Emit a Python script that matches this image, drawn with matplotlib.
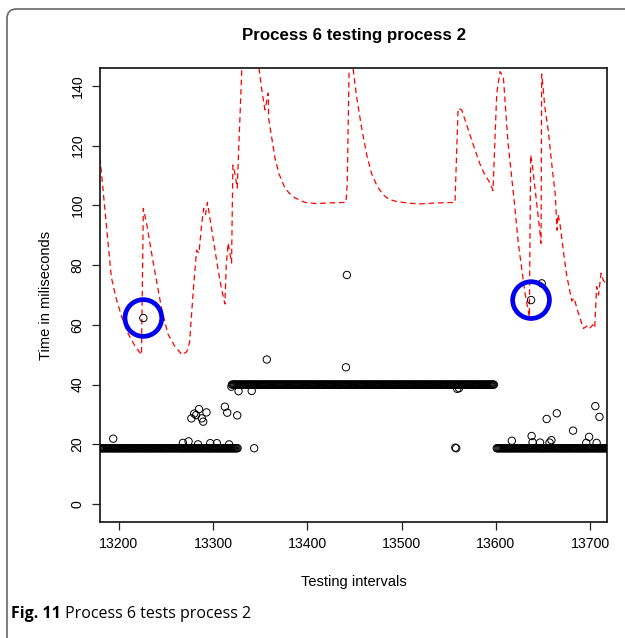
import numpy as np
import matplotlib
matplotlib.use("Agg")
import matplotlib.pyplot as plt
from matplotlib.patches import FancyBboxPatch

# dashed red curve (threshold line)
red_x = [13180, 13186, 13192, 13197, 13203, 13210, 13217, 13224, 13226, 13230,
         13236, 13245, 13252, 13259, 13267, 13272, 13275, 13279, 13282.5, 13285,
         13288, 13290, 13292, 13294, 13296, 13300, 13305, 13309, 13312.5, 13314,
         13316, 13319.6, 13321, 13323, 13325.6, 13331, 13347, 13352, 13355, 13358.5,
         13359, 13365.6, 13370, 13376, 13381, 13387, 13397.5, 13410, 13420, 13441,
         13442.4, 13444.5, 13447, 13452, 13457.6, 13463, 13468, 13474, 13480.6, 13487,
         13494.8, 13509, 13520, 13535, 13556.7, 13560, 13563.8, 13568, 13572.6, 13578,
         13583, 13588, 13594, 13597, 13601, 13604.5, 13608, 13613, 13615, 13620,
         13624, 13631, 13635.6, 13637, 13639, 13643, 13647, 13648, 13648.7, 13650,
         13652, 13655.7, 13660, 13663, 13665, 13666, 13668, 13672, 13675, 13680.6,
         13683, 13687.6, 13693, 13698, 13700, 13703, 13705, 13707, 13709, 13711.7,
         13714, 13716, 13720]
red_y = [116, 96, 76, 69, 62.7, 57, 53, 50, 99, 93,
         81.7, 66, 57, 53, 50, 51, 54, 71.6, 85, 84,
         94, 99, 97, 101, 97, 89, 79, 72, 67, 80,
         87.4, 80.7, 113.5, 111, 105.8, 150, 150, 138, 132, 137.6,
         129, 116, 110.5, 106, 104, 102.5, 101, 100.6, 100.8, 101,
         107.5, 150, 150, 137, 126, 117, 110.8, 106.5, 103.5, 102,
         101.3, 100.7, 100.5, 100.8, 101, 132.5, 132, 128, 123.6, 118.5,
         114, 110.5, 107.4, 105, 137.5, 144.8, 143, 120.8, 115, 100,
         87, 70.6, 62.7, 116.9, 113, 101.8, 90.6, 87.3, 144, 140,
         133, 125, 112, 104, 91.7, 97, 94, 84, 77, 68,
         69, 63.9, 58.8, 59.9, 59, 60, 59, 72.8, 70, 77.3,
         75, 74, 76]

# steady bands of measured times (one test per interval)
band_start = [13180, 13321, 13601]
band_end = [13326, 13598, 13720]
band_level = [18.7, 40.0, 18.7]

# scattered measurements off the bands
extra_x = [13194, 13268, 13274, 13277, 13280, 13282, 13285, 13288, 13289.5, 13293,
           13284, 13297, 13304, 13312.5, 13315, 13317, 13325.6, 13343.6, 13320, 13319.5,
           13327, 13341, 13357, 13441, 13442, 13557, 13558, 13559, 13561,
           13617, 13638, 13639, 13647, 13654, 13659, 13657, 13664.7, 13682, 13699,
           13696, 13705.6, 13710, 13707, 13226, 13637.4, 13648.7]
extra_y = [21.9, 20.5, 21, 28.7, 30.3, 29.8, 31.8, 28.7, 27.6, 30.7,
           20, 20.4, 20.4, 32.6, 30.6, 20, 29.7, 18.7, 40, 39.3,
           37.8, 37.9, 48.4, 45.8, 76.7, 18.9, 18.7, 38.6, 38.8,
           21.2, 22.8, 20.7, 20.6, 28.5, 21.4, 20.6, 30.4, 24.6, 22.5,
           20.5, 32.8, 29.2, 20.5, 62.3, 68.3, 73.9]

# highlighted anomalies
mark_x = [13226, 13637.4]
mark_y = [62.3, 68.3]

plt.rcParams['font.family'] = ['Liberation Sans', 'DejaVu Sans']

fig = plt.figure(figsize=(6.25, 6.38), dpi=100)
ax = fig.add_axes([0.16, 0.1818, 0.8112, 0.7116])

# points
px, py = [], []
for s, e, lv in zip(band_start, band_end, band_level):
    xs = np.arange(s, e + 1)
    px.extend(xs)
    py.extend([lv] * len(xs))
px.extend(extra_x)
py.extend(extra_y)

ax.plot(red_x, red_y, color='red', lw=0.9, dashes=(4.5, 3), zorder=2)
ax.scatter(px, py, s=28, facecolors='none', edgecolors='black', linewidths=0.7, zorder=3)
ax.scatter(mark_x, mark_y, s=700, facecolors='none', edgecolors='#0000ee', linewidths=3.4, zorder=4)

ax.set_xlim(13180, 13718)
ax.set_ylim(-6, 146)
ax.set_xticks([13200, 13300, 13400, 13500, 13600, 13700])
ax.set_yticks([0, 20, 40, 60, 80, 100, 120, 140])
ax.set_yticklabels(['0', '20', '40', '60', '80', '100', '120', '140'], rotation=90, va='center')
ax.tick_params(direction='out', length=6, width=0.9, labelsize=10.2, pad=5, color='#222222')
for sp in ax.spines.values():
    sp.set_linewidth(1.3)
    sp.set_color('#222222')

ax.set_title("Process 6 testing process 2", fontsize=12.2, fontweight='bold', pad=20)
ax.set_xlabel("Testing intervals", fontsize=10.5, labelpad=17)
ax.set_ylabel("Time in miliseconds", fontsize=10.5, labelpad=13)

# panel frame around the figure
frame = FancyBboxPatch((7 / 625, -0.2), 1.2, 1.2 - 9 / 638,
                       boxstyle="round,pad=0,rounding_size=0.015",
                       transform=fig.transFigure, fill=False,
                       edgecolor='#666666', lw=1.2, clip_on=False)
fig.patches.append(frame)

t1 = fig.text(11 / 625, 1 - 614 / 638, "Fig. 11", fontsize=11.5, fontweight='bold',
              family='Open Sans', va='center')
ax.annotate(" Process 6 tests process 2", xy=(1, 0.5), xycoords=t1, va='center',
            fontsize=11.5, family='Open Sans')

fig.savefig("out.png", dpi=100)
